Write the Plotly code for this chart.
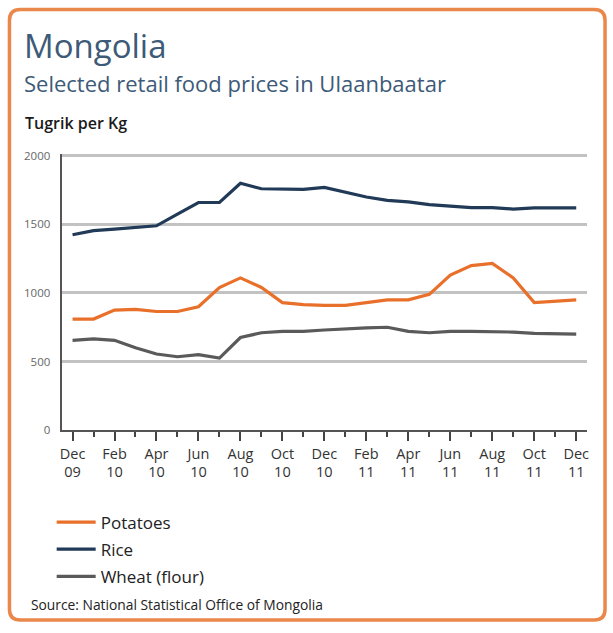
import plotly.graph_objects as go

W, H = 613, 633

months = ["Dec 09", "Jan 10", "Feb 10", "Mar 10", "Apr 10", "May 10", "Jun 10", "Jul 10",
          "Aug 10", "Sep 10", "Oct 10", "Nov 10", "Dec 10", "Jan 11", "Feb 11", "Mar 11",
          "Apr 11", "May 11", "Jun 11", "Jul 11", "Aug 11", "Sep 11", "Oct 11", "Nov 11",
          "Dec 11"]

potatoes = [810, 810, 875, 880, 865, 865, 900, 1040, 1110, 1040, 930, 915, 910,
            910, 930, 950, 950, 990, 1130, 1200, 1215, 1110, 930, 940, 950]
rice = [1425, 1455, 1465, 1480, 1490, 1575, 1660, 1660, 1800, 1760, 1760, 1755, 1770,
        1735, 1700, 1675, 1665, 1645, 1635, 1622, 1622, 1612, 1620, 1620, 1620]
wheat = [655, 665, 655, 600, 555, 535, 550, 525, 675, 710, 720, 720, 730,
         740, 745, 750, 720, 710, 720, 720, 720, 715, 705, 700, 700]

tick_labels = ["Dec<br>09", "Feb<br>10", "Apr<br>10", "Jun<br>10", "Aug<br>10", "Oct<br>10",
               "Dec<br>10", "Feb<br>11", "Apr<br>11", "Jun<br>11", "Aug<br>11", "Oct<br>11",
               "Dec<br>11"]
y_ticks = [0, 500, 1000, 1500, 2000]

C_POT = "#e8702a"
C_RICE = "#213a57"
C_WHEAT = "#5a5a5a"
FONT = "Open Sans"

idx = list(range(len(months)))

def px_x(p):
    return p / W

def px_y(p):
    return 1 - p / H

# pixel geometry of the plotting area
X_LEFT, X_RIGHT = 60, 589
Y_ZERO, Y_2000 = 433, 153
PX_PER_UNIT = (Y_ZERO - Y_2000) / 2000
Y_TOP_VAL = 2015
Y_TOP_PX = Y_ZERO - Y_TOP_VAL * PX_PER_UNIT
MONTH_PX = (578 - 71) / 24

fig = go.Figure()
for name, vals, col in [("Potatoes", potatoes, C_POT), ("Rice", rice, C_RICE),
                        ("Wheat (flour)", wheat, C_WHEAT)]:
    fig.add_trace(go.Scatter(x=idx, y=vals, name=name, mode="lines",
                             legendgroup=name,
                             line=dict(color=col, width=3.2),
                             customdata=months,
                             hovertemplate="%{customdata}: %{y}<extra>" + name + "</extra>"))

fig.update_layout(
    width=W, height=H,
    margin=dict(l=0, r=0, t=0, b=0),
    paper_bgcolor="white", plot_bgcolor="white",
    font=dict(family=FONT, color="#333333"),
    xaxis=dict(
        domain=[px_x(X_LEFT), px_x(X_RIGHT)],
        range=[-(71 - X_LEFT) / MONTH_PX, 24 + (X_RIGHT - 578) / MONTH_PX],
        tickmode="array", tickvals=idx[::2], ticktext=tick_labels,
        ticks="outside", ticklen=9, tickwidth=2, tickcolor="#444444",
        minor=dict(tick0=0, dtick=1, ticks="outside", ticklen=5, tickwidth=2, tickcolor="#444444"),
        showgrid=False, zeroline=False,
        showline=True, linecolor="#555555", linewidth=2,
        tickfont=dict(size=14.5, color="#333333"),
    ),
    yaxis=dict(
        domain=[px_y(Y_ZERO), px_y(Y_TOP_PX)],
        range=[0, Y_TOP_VAL],
        tickmode="array", tickvals=y_ticks,
        ticks="", ticklabelstandoff=7,
        showgrid=True, gridcolor="#c2c2c2", gridwidth=3,
        zeroline=False,
        showline=True, linecolor="#555555", linewidth=2,
        tickfont=dict(size=11.5, color="#666666"),
    ),
    legend=dict(
        x=px_x(50), y=px_y(509), xanchor="left", yanchor="top",
        font=dict(size=17, color="#222222"),
        itemwidth=39, bgcolor="rgba(0,0,0,0)",
        tracegroupgap=2,
    ),
    showlegend=True,
)

# Orange rounded frame around the panel
r = 11
x0, x1, y0, y1 = 7.5, 607, 3.5, 627
path = (f"M {x0 + r},{y0} L {x1 - r},{y0} Q {x1},{y0} {x1},{y0 + r} "
        f"L {x1},{y1 - r} Q {x1},{y1} {x1 - r},{y1} L {x0 + r},{y1} "
        f"Q {x0},{y1} {x0},{y1 - r} L {x0},{y0 + r} Q {x0},{y0} {x0 + r},{y0} Z")

def to_paper_path(p):
    out = []
    for tok in p.split():
        if "," in tok:
            a, b = tok.split(",")
            out.append(f"{px_x(float(a)):.5f},{px_y(float(b)):.5f}")
        else:
            out.append(tok)
    return " ".join(out)

fig.add_shape(type="path", xref="paper", yref="paper", path=to_paper_path(path),
              line=dict(color="#ea874a", width=3.5), fillcolor="rgba(0,0,0,0)", layer="above")

texts = [
    ("Mongolia", 20, 40, 33, "#3d5a78", 400),
    ("Selected retail food prices in Ulaanbaatar", 20, 79, 22, "#3d5a78", 400),
    ("Tugrik per Kg", 21, 119, 16, "#1a1a1a", 600),
    ("Source: National Statistical Office of Mongolia", 27, 611, 13.8, "#222222", 400),
]
for t, x, y, s, c, wgt in texts:
    fig.add_annotation(text=t, x=px_x(x), y=px_y(y), xref="paper", yref="paper",
                       xanchor="left", yanchor="middle", showarrow=False,
                       font=dict(family=FONT, size=s, color=c, weight=wgt))

fig.write_html("out.html")
